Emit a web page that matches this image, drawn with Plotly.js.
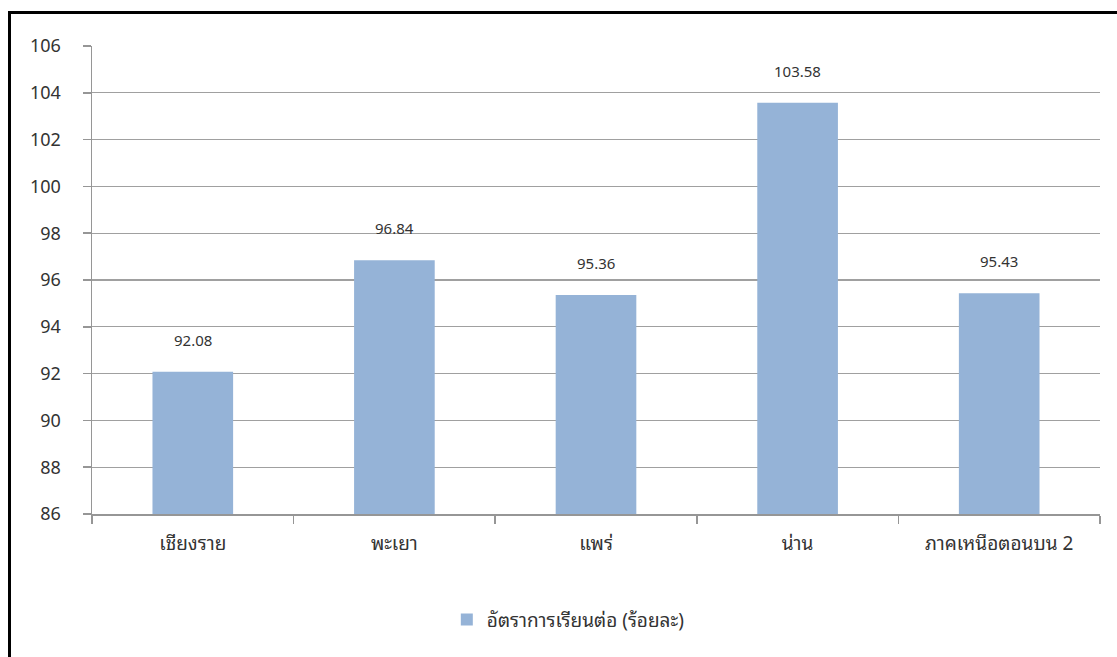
<!DOCTYPE html>
<html>
<head>
<meta charset="utf-8">
<script src="https://cdn.plot.ly/plotly-3.0.1.min.js"></script>
<style>
html,body{margin:0;padding:0;background:#fff;}
#wrap{position:relative;width:1117px;height:657px;overflow:hidden;}
#frame{position:absolute;left:8px;top:11px;width:1200px;height:700px;border-left:3px solid #000;border-top:3px solid #000;pointer-events:none;z-index:5;}
#chart{position:absolute;left:0;top:0;width:1117px;height:657px;}
</style>
</head>
<body>
<div id="wrap">
<div id="chart"></div>
<div id="frame"></div>
</div>
<script>
const categories = ["เชียงราย", "พะเยา", "แพร่", "น่าน", "ภาคเหนือตอนบน 2"];
const values = [92.08, 96.84, 95.36, 103.58, 95.43];
const valueLabels = ["92.08", "96.84", "95.36", "103.58", "95.43"];
const yTicks = [86, 88, 90, 92, 94, 96, 98, 100, 102, 104, 106];
const seriesName = "อัตราการเรียนต่อ (ร้อยละ)";

const fontFam = "'Noto Sans', 'Noto Sans Thai Looped', 'Noto Looped Thai', Loma, Tahoma, 'Noto Sans Thai', sans-serif";

const trace = {
  type: "bar",
  x: categories,
  y: values.map(v => v - yTicks[0]),
  base: yTicks[0],
  name: seriesName,
  marker: {color: "#95b3d7"},
  hoverinfo: "skip",
  showlegend: true
};

const annotations = categories.map((c, i) => ({
  x: c, y: values[i], xref: "x", yref: "y",
  text: valueLabels[i], showarrow: false,
  yanchor: "bottom", yshift: 20,
  font: {family: fontFam, size: 15, color: "#333"}
}));

const layout = {
  width: 1117, height: 657,
  margin: {l: 92, r: 17, t: 46, b: 143},
  paper_bgcolor: "#fff", plot_bgcolor: "#fff",
  bargap: 0.6,
  showlegend: true,
  legend: {orientation: "h", x: 0.352, xanchor: "left", y: -0.226, yanchor: "middle",
    font: {family: fontFam, size: 19, color: "#333"}},
  xaxis: {
    type: "category",
    showline: true, linecolor: "#969696", linewidth: 1.5,
    ticks: "outside", tickson: "boundaries", ticklen: 8, tickcolor: "#969696", tickwidth: 1.5,
    showgrid: false, zeroline: false,
    tickfont: {family: fontFam, size: 19, color: "#333"},
    ticklabelstandoff: 12
  },
  yaxis: {
    range: [yTicks[0], yTicks[yTicks.length - 1]],
    tickvals: yTicks, ticktext: yTicks.map(String),
    showline: true, linecolor: "#969696", linewidth: 1.5,
    ticks: "outside", ticklen: 8, tickcolor: "#969696", tickwidth: 1.5,
    showgrid: true, gridcolor: "#a0a0a0", gridwidth: 1.2,
    zeroline: false,
    tickfont: {family: fontFam, size: 18, color: "#333"},
    ticklabelstandoff: 18
  },
  annotations: annotations
};

Plotly.newPlot("chart", [trace], layout, {staticPlot: true});
</script>
</body>
</html>
